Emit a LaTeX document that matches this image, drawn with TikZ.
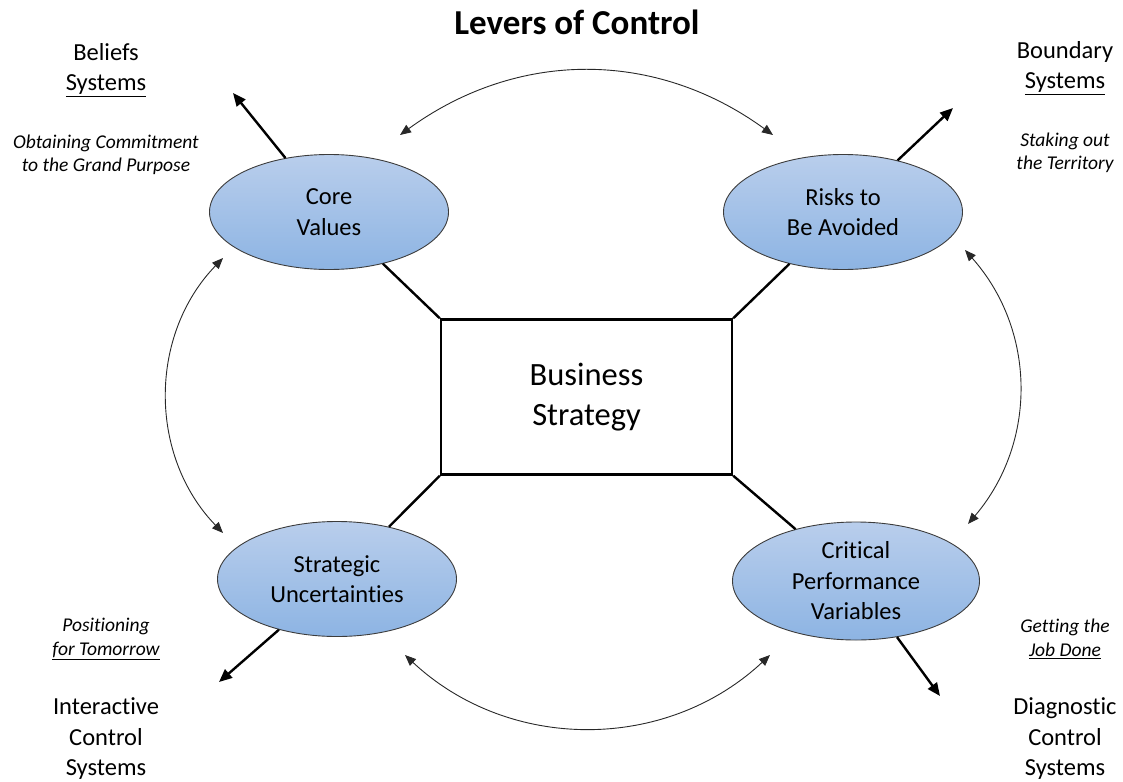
\documentclass[tikz,border=0pt]{standalone}
\usepackage{fontspec}
\setmainfont{Carlito}[Ligatures=NoCommon]
\usetikzlibrary{shapes.geometric,arrows.meta}

\definecolor{levabordo}{RGB}{60,60,60}
\definecolor{levasu}{RGB}{185,206,236}
\definecolor{levagiu}{RGB}{141,180,227}
\definecolor{ciclogrigio}{RGB}{40,40,40}

\tikzset{
  leva/.style={ellipse, draw=levabordo, line width=0.9pt,
    top color=levasu, bottom color=levagiu,
    minimum width=239pt, minimum height=115pt, inner sep=0pt,
    align=center, font=\fontsize{24.5}{30.5}\selectfont},
  sistema/.style={align=center, font=\fontsize{24.5}{30.5}\selectfont},
  motto/.style={align=center, font=\fontsize{19.5}{23.5}\selectfont\itshape},
  raggio/.style={line width=2.4pt},
  uscita/.style={line width=2.4pt, -{Triangle[length=13pt,width=11pt]}},
  ciclo/.style={line width=0.9pt, draw=ciclogrigio,
    {Triangle[length=11pt,width=9pt]}-{Triangle[length=11pt,width=9pt]}},
}

\begin{document}
\begin{tikzpicture}[x=1pt,y=-1pt]
  \useasboundingbox (0,0) rectangle (1123,781);

  % Titolo e strategia
  \node (titolo) at (577,22) {\fontsize{35}{40}\selectfont\bfseries Levers of Control};
  \node[draw, line width=2.4pt, minimum width=291pt, minimum height=155pt,
    align=center, font=\fontsize{32.5}{40}\selectfont] (strategia) at (586.5,397) {Business\\Strategy};

  % Leve
  \node[leva] (cv) at (329,212) {Core\\Values};
  \node[leva] (ra) at (843,212) {Risks to\\Be Avoided};
  \node[leva] (su) at (337,579) {Strategic\\Uncertainties};
  \node[leva, minimum width=247pt, minimum height=118pt] (cpv) at (856,581) {Critical\\Performance\\Variables};

  % Sistemi
  \node[sistema] (beliefs) at (106,70) {Beliefs\\\underline{Systems}};
  \node[motto] (mbeliefs) at (106,155) {Obtaining Commitment\\to the Grand Purpose};
  \node[sistema] (boundary) at (1065,68) {Boundary\\\underline{Systems}};
  \node[motto] (mboundary) at (1065,153) {Staking out\\the Territory};
  \node[motto] (minter) at (106,639) {Positioning\\\underline{for Tomorrow}};
  \node[sistema] (inter) at (106,739) {Interactive\\Control\\Systems};
  \node[motto] (mdiag) at (1065,639) {Getting the\\\underline{Job Done}};
  \node[sistema] (diag) at (1065,739) {Diagnostic\\Control\\Systems};

  % Punte delle frecce
  \coordinate (fcv) at (233,93);
  \coordinate (fra) at (953,108);
  \coordinate (fsu) at (219,682);
  \coordinate (fcpv) at (940,696);

  \coordinate (a1) at (400,135);
  \coordinate (a2) at (773,135);
  \coordinate (b1) at (965,250);
  \coordinate (b2) at (968,524);
  \coordinate (c1) at (405,655);
  \coordinate (c2) at (770,655);
  \coordinate (d1) at (223,258);
  \coordinate (d2) at (223,533);

  % Collegamenti
  \draw[raggio] (strategia.north west) -- (cv);
  \draw[raggio] (strategia.north east) -- (ra);
  \draw[raggio] (strategia.south west) -- (su);
  \draw[raggio] (strategia.south east) -- (cpv);

  \draw[uscita] (cv) -- (fcv);
  \draw[uscita] (ra) -- (fra);
  \draw[uscita] (su) -- (fsu);
  \draw[uscita] (cpv) -- (fcpv);

  \draw[ciclo] (a1) to[bend left=36] (a2);
  \draw[ciclo] (b1) to[bend left=41] (b2);
  \draw[ciclo] (c1) to[bend right=43] (c2);
  \draw[ciclo] (d1) to[bend right=44] (d2);
\end{tikzpicture}
\end{document}
